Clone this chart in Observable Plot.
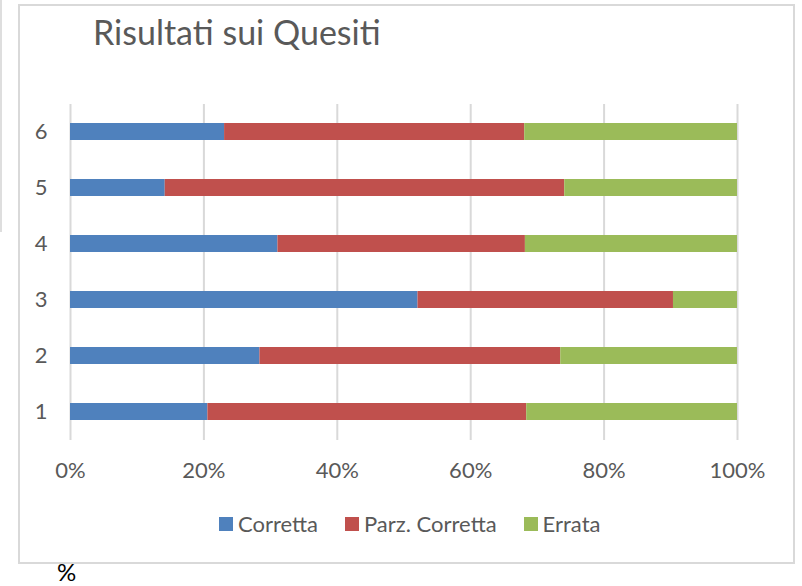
<!DOCTYPE html>
<html>
<head>
<meta charset="utf-8">
<script src="https://cdn.jsdelivr.net/npm/d3@7"></script>
<script src="https://cdn.jsdelivr.net/npm/@observablehq/plot@0.6"></script>
<style>
  html, body { margin: 0; padding: 0; background: #fff; }
  #wrap { position: relative; width: 802px; height: 586px; overflow: hidden; font-family: Lato, "Open Sans", sans-serif; color: #595959; }
  #frame { position: absolute; left: 18px; top: 4px; width: 773px; height: 556px; border: 2px solid #d9d9d9; box-sizing: content-box; }
  #edge { position: absolute; left: 0px; top: 0px; width: 2px; height: 232px; background: #dedede; }
  #title { position: absolute; left: 93px; top: 15px; font-size: 34px; line-height: 1; white-space: nowrap; }
  #chart { position: absolute; left: 0; top: 0; }
  #legend { position: absolute; left: 219px; top: 513px; display: flex; align-items: center; font-size: 22px; line-height: 1; white-space: nowrap; }
  .item { display: flex; align-items: center; margin-right: 27px; }
  .sw { width: 14px; height: 14px; margin-right: 5px; }
  #pct { position: absolute; left: 57px; top: 560px; font-size: 24px; line-height: 1; color: #000; }
</style>
</head>
<body>
<div id="wrap">
  <div id="edge"></div>
  <div id="frame"></div>
  <div id="chart"></div>
  <div id="title">Risultati sui Quesiti</div>
  <div id="legend"></div>
  <div id="pct">%</div>
</div>
<script>
const questions = ["1", "2", "3", "4", "5", "6"];
const seriesNames = ["Corretta", "Parz. Corretta", "Errata"];
const seriesColors = ["#4F81BD", "#C0504D", "#9BBB59"];
const corretta = [20.6, 28.4, 52.1, 31.1, 14.2, 23.1];
const parzCorretta = [47.8, 45.1, 38.3, 37.1, 59.9, 45.0];
const errata = [31.6, 26.5, 9.6, 31.8, 25.9, 31.9];
const xTicks = [0, 20, 40, 60, 80, 100];

const seriesValues = [corretta, parzCorretta, errata];
const data = [];
seriesNames.forEach((s, si) => {
  questions.forEach((q, qi) => {
    data.push({ q, series: s, value: seriesValues[si][qi] });
  });
});

const chart = Plot.plot({
  width: 802,
  height: 586,
  marginLeft: 70,
  marginRight: 65,
  marginTop: 104,
  marginBottom: 146,
  style: { fontFamily: "Lato, 'Open Sans', sans-serif", fontSize: "22px", color: "#595959", background: "transparent" },
  x: { domain: [0, 100] },
  y: { domain: questions.slice().reverse(), paddingInner: 0.69, paddingOuter: 0.345 },
  color: { domain: seriesNames, range: seriesColors },
  marks: [
    Plot.ruleX(xTicks, { stroke: "#d9d9d9", strokeWidth: 2 }),
    Plot.barX(data, { x: "value", y: "q", fill: "series", order: seriesNames }),
    Plot.axisX({ ticks: xTicks, tickSize: 0, tickPadding: 22, tickFormat: d => d + "%", label: null }),
    Plot.axisY({ tickSize: 0, tickPadding: 23, label: null })
  ]
});
document.getElementById("chart").appendChild(chart);

const legend = document.getElementById("legend");
seriesNames.forEach((s, i) => {
  const item = document.createElement("div");
  item.className = "item";
  const sw = document.createElement("div");
  sw.className = "sw";
  sw.style.background = seriesColors[i];
  const t = document.createElement("span");
  t.textContent = s;
  item.appendChild(sw);
  item.appendChild(t);
  legend.appendChild(item);
});
</script>
</body>
</html>
